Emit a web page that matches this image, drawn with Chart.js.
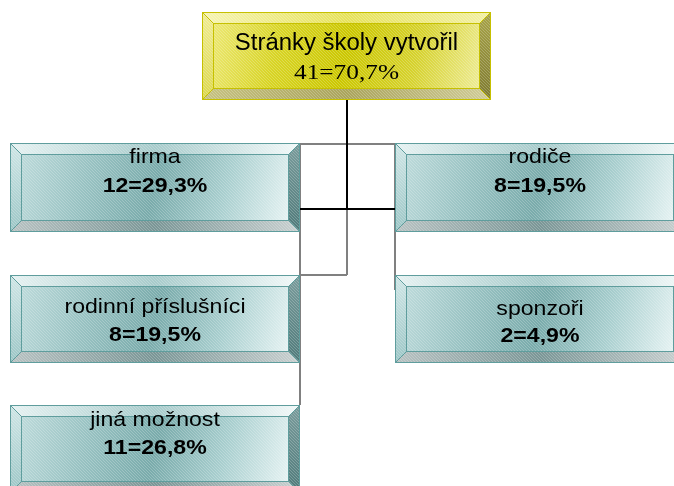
<!DOCTYPE html>
<html>
<head>
<meta charset="utf-8">
<script src="https://cdn.jsdelivr.net/npm/chart.js@4.4.0/dist/chart.umd.min.js"></script>
<style>
  html, body { margin: 0; padding: 0; background: #fff; }
  #org { display: block; }
</style>
</head>
<body>
<canvas id="org" width="674" height="486"></canvas>
<script>
const labels = ['Stránky školy vytvořil', 'firma', 'rodiče', 'rodinní příslušníci', 'sponzoři', 'jiná možnost'];
const counts = [41, 12, 8, 8, 2, 11];
const percents = ['70,7', '29,3', '19,5', '19,5', '4,9', '26,8'];

// where each node sits (page pixels), and text baselines inside it
const layout = [
  { x: 202, y: 12,  w: 289, h: 88, t1: 38, t2: 67 },
  { x: 10,  y: 143, w: 290, h: 89, t1: 20, t2: 49 },
  { x: 395, y: 143, w: 290, h: 89, t1: 20, t2: 49 },
  { x: 10,  y: 275, w: 290, h: 88, t1: 38, t2: 66 },
  { x: 395, y: 275, w: 290, h: 88, t1: 40, t2: 67 },
  { x: 10,  y: 405, w: 290, h: 88, t1: 21, t2: 49 }
];

// connectors derived from the layout
const root = layout[0];
const midX = Math.round(root.x + root.w / 2);
const leftX = layout[1].x + layout[1].w;
const rightX = layout[2].x;
const row1 = layout[1].y + 1;
const bus = 209;
const row2 = layout[3].y;
const gap = { x: null, y: null };

const blackLines = [
  { x: midX, y: root.y + root.h }, { x: midX, y: bus }, gap,
  { x: leftX, y: bus }, { x: rightX, y: bus }
];
const grayLines = [
  { x: leftX, y: row1 }, { x: rightX, y: row1 }, gap,
  { x: midX, y: bus }, { x: midX, y: row2 }, gap,
  { x: leftX, y: row2 }, { x: midX, y: row2 }, gap,
  { x: leftX, y: row1 }, { x: leftX, y: layout[5].y }, gap,
  { x: rightX, y: row1 }, { x: rightX, y: layout[4].y + 15 }
];

const yellow = {
  face: ['#ece874', '#d8d424', '#cbc700', '#d6d22e', '#eeec96'],
  top: ['#f6f4b4', '#e6e25a', '#f2f0a4'],
  left: ['#f0ec94', '#dcd84c'],
  right: ['#a8a448', '#7e7a30'],
  bottom: ['#c6c282', '#aaa45c', '#d0cc98'],
  edge: '#c6c000'
};
const teal = {
  face: ['#bcdada', '#98c2c2', '#79abab', '#a9cfcf', '#e6f3f3'],
  top: ['#e6f2f2', '#a7cbcb', '#f2f9f9'],
  left: ['#cfe6e6', '#9cc6c6'],
  right: ['#7a9c9c', '#4f7a7a'],
  bottom: ['#b8c2c2', '#7a9696', '#c9d0d0'],
  edge: '#5f9d9d'
};

function grad(ctx, x0, y0, x1, y1, stops) {
  const g = ctx.createLinearGradient(x0, y0, x1, y1);
  stops.forEach((c, i) => g.addColorStop(i / (stops.length - 1), c));
  return g;
}

function poly(ctx, pts, fill) {
  ctx.beginPath();
  ctx.moveTo(pts[0][0], pts[0][1]);
  for (let i = 1; i < pts.length; i++) ctx.lineTo(pts[i][0], pts[i][1]);
  ctx.closePath();
  ctx.fillStyle = fill;
  ctx.fill();
}

function bevelBox(ctx, x, y, w, h, b, pal) {
  const ix = x + b, iy = y + b, ix2 = x + w - b, iy2 = y + h - b;
  poly(ctx, [[x, y], [x + w, y], [ix2, iy], [ix, iy]], grad(ctx, x, y, x + w, y, pal.top));
  poly(ctx, [[x, y], [ix, iy], [ix, iy2], [x, y + h]], grad(ctx, x, y, x, y + h, pal.left));
  poly(ctx, [[x + w, y], [x + w, y + h], [ix2, iy2], [ix2, iy]], grad(ctx, x, y, x, y + h, pal.right));
  poly(ctx, [[x, y + h], [ix, iy2], [ix2, iy2], [x + w, y + h]], grad(ctx, x, y, x + w, y, pal.bottom));
  poly(ctx, [[ix, iy], [ix2, iy], [ix2, iy2], [ix, iy2]], grad(ctx, ix, iy, ix2, iy2, pal.face));

  // fine diagonal hatching
  ctx.save();
  ctx.beginPath();
  ctx.rect(x, y, w, h);
  ctx.clip();
  ctx.strokeStyle = 'rgba(255,255,255,0.22)';
  ctx.lineWidth = 1;
  ctx.beginPath();
  for (let k = -h; k < w; k += 3) {
    ctx.moveTo(x + k, y);
    ctx.lineTo(x + k + h, y + h);
  }
  ctx.stroke();
  ctx.restore();

  ctx.strokeStyle = pal.edge;
  ctx.lineWidth = 1;
  ctx.strokeRect(x + 0.5, y + 0.5, w - 1, h - 1);
  ctx.strokeRect(ix + 0.5, iy + 0.5, ix2 - ix - 1, iy2 - iy - 1);
  ctx.beginPath();
  ctx.moveTo(x, y); ctx.lineTo(ix, iy);
  ctx.moveTo(x + w, y); ctx.lineTo(ix2, iy);
  ctx.moveTo(x, y + h); ctx.lineTo(ix, iy2);
  ctx.moveTo(x + w, y + h); ctx.lineTo(ix2, iy2);
  ctx.stroke();
}

function stretchText(ctx, txt, cx, by, font, sx) {
  ctx.save();
  ctx.font = font;
  ctx.translate(cx, by);
  ctx.scale(sx, 1);
  ctx.fillText(txt, 0, 0);
  ctx.restore();
}

const orgBoxes = {
  id: 'orgBoxes',
  afterDatasetsDraw(chart) {
    const { ctx, scales: { x, y } } = chart;
    ctx.save();
    labels.forEach((name, i) => {
      const L = layout[i];
      const x0 = x.getPixelForValue(L.x), x1 = x.getPixelForValue(L.x + L.w);
      const y0 = y.getPixelForValue(L.y), y1 = y.getPixelForValue(L.y + L.h);
      bevelBox(ctx, x0, y0, x1 - x0, y1 - y0, 11, i === 0 ? yellow : teal);

      const cx = (x0 + x1) / 2;
      const value = counts[i] + '=' + percents[i] + '%';
      ctx.fillStyle = '#000';
      ctx.textAlign = 'center';
      ctx.textBaseline = 'alphabetic';
      if (i === 0) {
        stretchText(ctx, name, cx, y0 + L.t1, '23px "Liberation Sans", Arial, sans-serif', 1.04);
        stretchText(ctx, value, cx, y0 + L.t2, '22px "Liberation Serif", "Times New Roman", serif', 1.15);
      } else {
        stretchText(ctx, name, cx, y0 + L.t1, '21px "Liberation Sans", Arial, sans-serif', 1.1);
        stretchText(ctx, value, cx, y0 + L.t2, 'bold 21px "Liberation Sans", Arial, sans-serif', 1.1);
      }
    });
    ctx.restore();
  }
};

const chart = new Chart(document.getElementById('org'), {
  type: 'scatter',
  data: {
    datasets: [
      { data: blackLines, showLine: true, spanGaps: false, borderColor: '#000', borderWidth: 2, pointRadius: 0 },
      { data: grayLines, showLine: true, spanGaps: false, borderColor: '#808080', borderWidth: 2, pointRadius: 0 }
    ]
  },
  options: {
    responsive: false,
    animation: false,
    devicePixelRatio: 1,
    layout: { padding: 0 },
    plugins: { legend: { display: false }, tooltip: { enabled: false } },
    scales: {
      x: { type: 'linear', min: 0, max: 674, display: false },
      y: { type: 'linear', min: 0, max: 486, reverse: true, display: false }
    }
  },
  plugins: [orgBoxes]
});
</script>
</body>
</html>
